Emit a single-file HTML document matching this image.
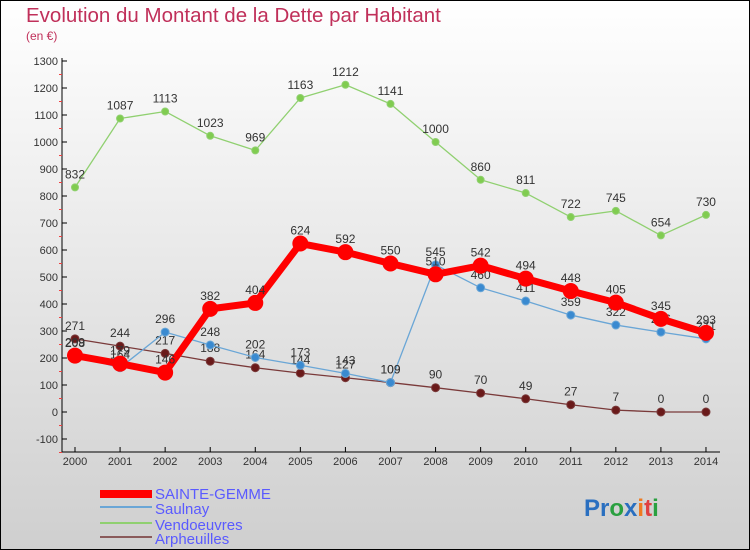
<!DOCTYPE html>
<html><head><meta charset="utf-8"><style>
body{margin:0;padding:0}
#c{width:750px;height:550px;position:relative;overflow:hidden}
text{font-family:"Liberation Sans",sans-serif}
</style></head><body>
<div id="c">
<svg id="s" width="750" height="550" xmlns="http://www.w3.org/2000/svg">
<defs><linearGradient id="bg" x1="0" y1="0" x2="0" y2="1"><stop offset="0" stop-color="#ffffff"/><stop offset="1" stop-color="#cfcfcf"/></linearGradient></defs>
<rect x="0.5" y="0.5" width="749" height="549" fill="url(#bg)" stroke="#000"/>
<text x="26" y="22" font-size="20.5" fill="#c0305a">Evolution du Montant de la Dette par Habitant</text>
<text x="26" y="40" font-size="12" fill="#c0305a">(en €)</text>
<g id="axes"></g><g id="series"></g>
<g>
<rect x="100" y="490" width="52" height="8" fill="#ff0000"/>
<text x="155" y="499" font-size="15" fill="#5a5aff">SAINTE-GEMME</text>
<rect x="100" y="506" width="52" height="2" fill="#6aa6d6"/>
<text x="155" y="514" font-size="15" fill="#5a5aff">Saulnay</text>
<rect x="100" y="522" width="52" height="2" fill="#90d070"/>
<text x="155" y="530" font-size="15" fill="#5a5aff">Vendoeuvres</text>
<rect x="100" y="536" width="52" height="2" fill="#8a5a5a"/>
<text x="155" y="544" font-size="15" fill="#5a5aff">Arpheuilles</text>
</g>
<text x="584" y="516" font-size="24" font-weight="bold"><tspan fill="#2a6fc0">Pr</tspan><tspan fill="#2aa040">o</tspan><tspan fill="#2a6fc0">x</tspan><tspan fill="#f07a20">i</tspan><tspan fill="#e04040">t</tspan><tspan fill="#2aa040">i</tspan></text>
</svg></div>
<script>
const years=[2000,2001,2002,2003,2004,2005,2006,2007,2008,2009,2010,2011,2012,2013,2014];
const yTicks=[-100,0,100,200,300,400,500,600,700,800,900,1000,1100,1200,1300];
const sainteGemme=[209,179,146,382,404,624,592,550,510,542,494,448,405,345,293];
const saulnay=[208,164,296,248,202,173,143,109,545,460,411,359,322,296,271];
const vendoeuvres=[832,1087,1113,1023,969,1163,1212,1141,1000,860,811,722,745,654,730];
const arpheuilles=[271,244,217,188,164,144,127,109,90,70,49,27,7,0,0];
const NS='http://www.w3.org/2000/svg';
const xS=i=>75+i*45.07;
const yS=v=>412-v*0.27;
function mk(t,a,p){const e=document.createElementNS(NS,t);for(const k in a)e.setAttribute(k,a[k]);p.appendChild(e);return e;}
const ax=document.getElementById('axes');
let l=mk('line',{x1:62,y1:58,x2:62,y2:452,stroke:'#000'},ax);


l=mk('line',{x1:62,y1:452,x2:720,y2:452,stroke:'#000'},ax);


yTicks.forEach(v=>{const y=yS(v);
 mk('line',{x1:62,y1:y,x2:67,y2:y,stroke:'#000'},ax);
 mk('line',{x1:59,y1:y+13.5,x2:62,y2:y+13.5,stroke:'#f04040'},ax);
 const t=mk('text',{x:58,y:y+4,'font-size':11,fill:'#333','text-anchor':'end'},ax);t.textContent=v;
 
 
});
years.forEach((yr,i)=>{const x=xS(i);
 mk('line',{x1:x,y1:452,x2:x,y2:447,stroke:'#000'},ax);
 const t=mk('text',{x:x,y:465,'font-size':11,fill:'#333','text-anchor':'middle'},ax);t.textContent=yr;
 
 
});
const sg=document.getElementById('series');
function draw(name,vals,color,w,r,fill){
 const g=mk('g',{},sg);
 
 
 mk('polyline',{points:vals.map((v,i)=>xS(i)+','+yS(v)).join(' '),fill:'none',stroke:color,'stroke-width':w,'stroke-linejoin':'round'},g);
 vals.forEach((v,i)=>{
  const c=mk('circle',{cx:xS(i),cy:yS(v),r:r,fill:fill,stroke:color,'stroke-width':1},g);
  
  
  const t=mk('text',{x:xS(i),y:yS(v)-9,'font-size':12,fill:'#333','text-anchor':'middle'},g);t.textContent=v;
  
  
 });
}
draw('vendoeuvres',vendoeuvres,'#90d070',1.3,3.5,'#80cc50');
draw('arpheuilles',arpheuilles,'#7a3a3a',1.3,4,'#6a1a1a');
draw('saulnay',saulnay,'#6aa6d6',1.3,4,'#3a8ad0');
draw('sainte-gemme',sainteGemme,'#ff0000',7,7.5,'#ff0000');
</script>
</body></html>
